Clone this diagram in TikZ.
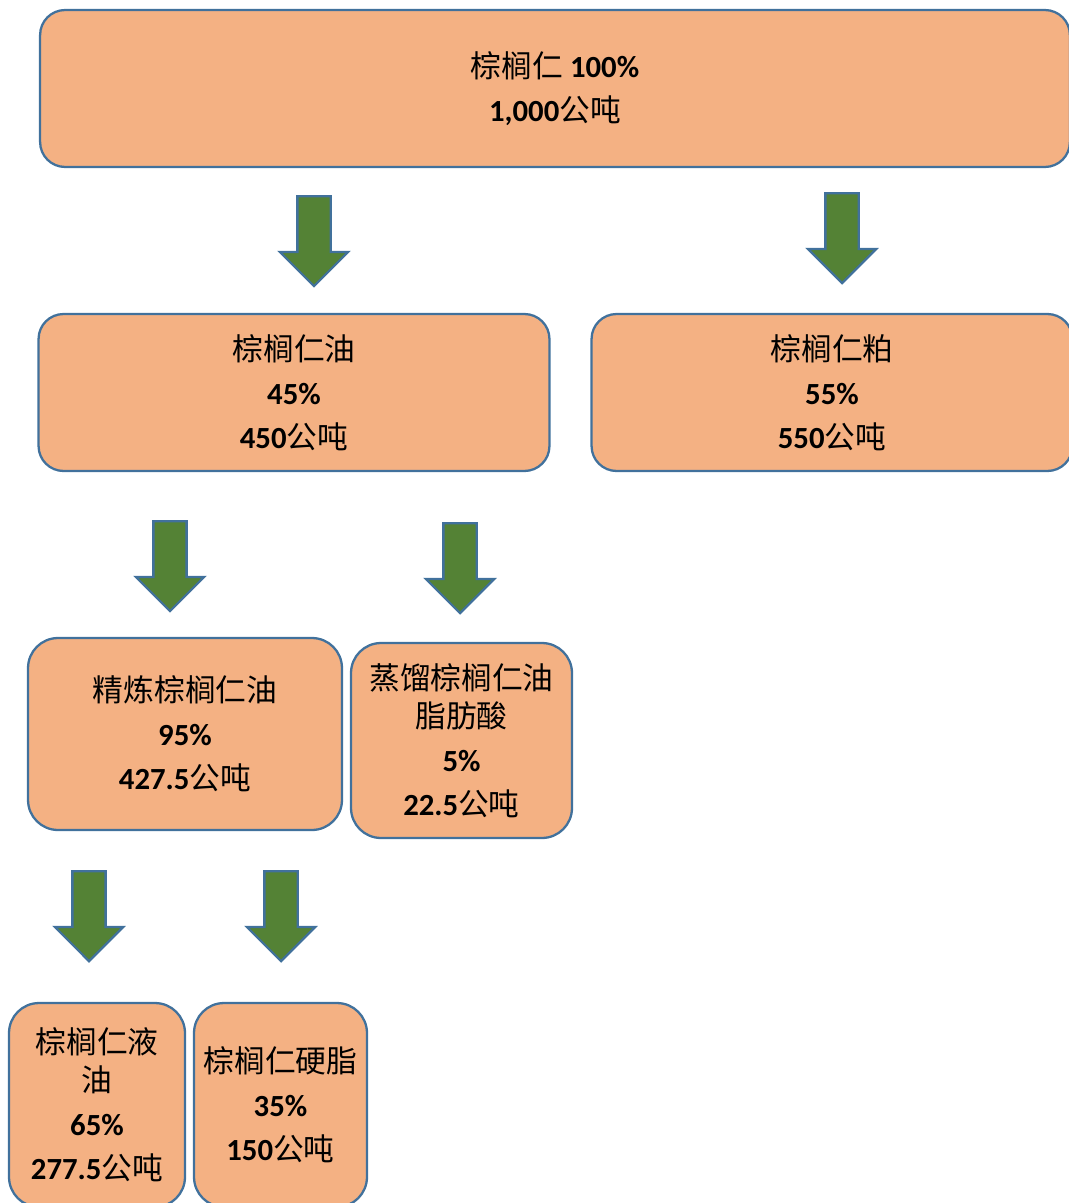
\documentclass[tikz,border=0pt]{standalone}
\usepackage{fontspec}
\setmainfont{Carlito}
\newfontfamily\cjk{Noto Sans CJK SC}
\usetikzlibrary{shapes.arrows}

\definecolor{boxfill}{HTML}{F4B183}
\definecolor{boxline}{HTML}{41719C}
\definecolor{arrowfill}{HTML}{548235}

\newcommand{\zh}[1]{{\cjk #1}}
\newcommand{\numtxt}[1]{\textbf{#1}}

\tikzset{
  flowbox/.style={draw=boxline, fill=boxfill, line width=1.3pt, rounded corners=0.5cm,
    align=center, inner sep=0pt, font=\fontsize{17.5}{25}\selectfont},
  greenarrow/.style={single arrow, draw=boxline, fill=arrowfill, line width=1.3pt,
    inner sep=0pt, inner ysep=0.31cm, single arrow head extend=0.35cm,
    minimum height=1.8cm, rotate=-90, anchor=tail}
}

\begin{document}
\begin{tikzpicture}[x=0.02cm,y=-0.02cm]
  \useasboundingbox (0,0) rectangle (1068,1203);
  % boxes
  \node[flowbox, minimum width=20.6cm, minimum height=3.14cm] (kernel) at (555,88.5)
    {\zh{棕榈仁}\numtxt{ 100\%}\\\numtxt{1,000}\zh{公吨}};
  \node[flowbox, minimum width=10.22cm, minimum height=3.14cm] (oil) at (294,392.5)
    {\zh{棕榈仁油}\\\numtxt{45\%}\\\numtxt{450}\zh{公吨}};
  \node[flowbox, minimum width=9.62cm, minimum height=3.14cm] (meal) at (832,392.5)
    {\zh{棕榈仁粕}\\\numtxt{55\%}\\\numtxt{550}\zh{公吨}};
  \node[flowbox, rounded corners=0.6cm, minimum width=6.28cm, minimum height=3.84cm] (refined) at (185,734)
    {\zh{精炼棕榈仁油}\\\numtxt{95\%}\\\numtxt{427.5}\zh{公吨}};
  \node[flowbox, rounded corners=0.6cm, minimum width=4.42cm, minimum height=3.9cm] (pfad) at (461.5,740.5)
    {\zh{蒸馏棕榈仁油}\\[-3.5pt]\zh{脂肪酸}\\\numtxt{5\%}\\\numtxt{22.5}\zh{公吨}};
  \node[flowbox, rounded corners=0.6cm, minimum width=3.52cm, minimum height=4.08cm] (olein) at (97,1105)
    {\zh{棕榈仁液}\\[-3.5pt]\zh{油}\\\numtxt{65\%}\\\numtxt{277.5}\zh{公吨}};
  \node[flowbox, rounded corners=0.6cm, minimum width=3.46cm, minimum height=4.08cm] (stearin) at (280.5,1105)
    {\zh{棕榈仁硬脂}\\\numtxt{35\%}\\\numtxt{150}\zh{公吨}};
  % arrows
  \node[greenarrow] (a1) at (314,195) {};
  \node[greenarrow] (a2) at (842,192) {};
  \node[greenarrow] (a3) at (170,520) {};
  \node[greenarrow] (a4) at (460,522) {};
  \node[greenarrow] (a5) at (89,870) {};
  \node[greenarrow] (a6) at (281,870) {};
\end{tikzpicture}
\end{document}
